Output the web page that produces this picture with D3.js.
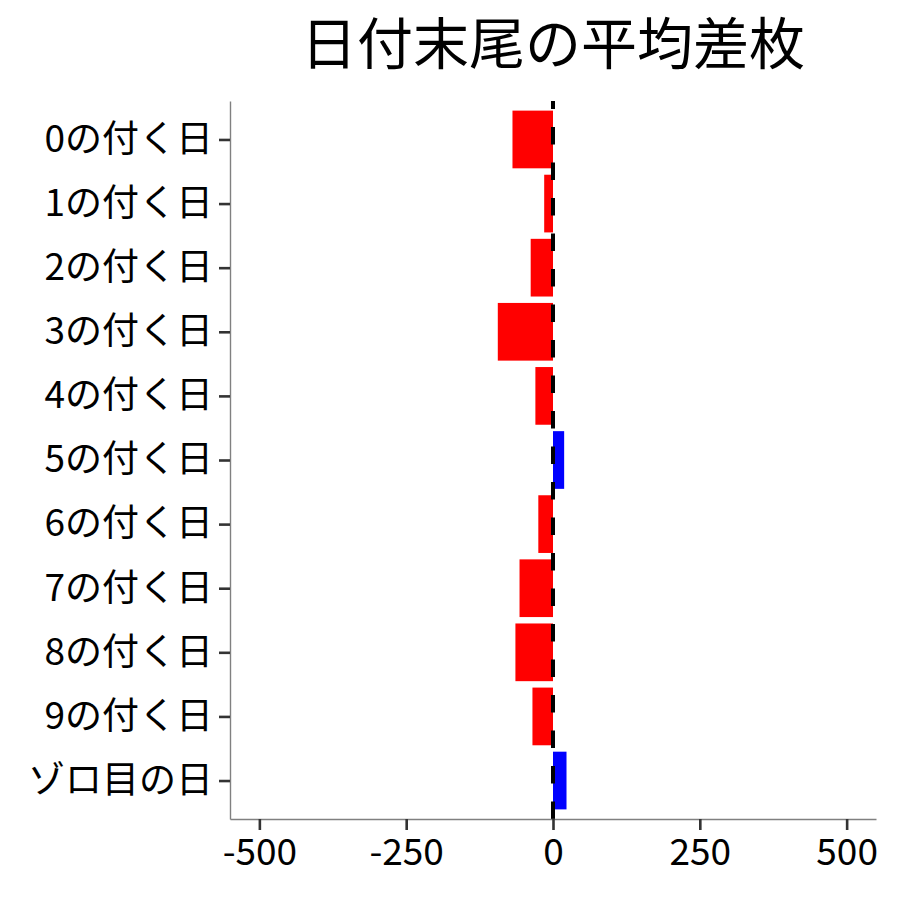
<!DOCTYPE html>
<html>
<head>
<meta charset="utf-8">
<script src="https://cdn.jsdelivr.net/npm/d3@7"></script>
<style>
  body { margin: 0; background: #fff; }
  text { font-family: "Noto Sans CJK JP", "Noto Sans", sans-serif; }
</style>
</head>
<body>
<div id="chart"></div>
<script>
const width = 900;
const height = 900;

// データ
const categories = ["0の付く日", "1の付く日", "2の付く日", "3の付く日", "4の付く日",
  "5の付く日", "6の付く日", "7の付く日", "8の付く日", "9の付く日", "ゾロ目の日"];
const values = [-69, -15, -38, -94, -30, 19, -25, -57, -64, -35, 23];
const xTicks = [-500, -250, 0, 250, 500];
const title = "日付末尾の平均差枚";

const margin = { top: 101, right: 24, bottom: 81, left: 230 };
const innerW = width - margin.left - margin.right;
const innerH = height - margin.top - margin.bottom;

const svg = d3.select("#chart")
  .append("svg")
  .attr("width", width)
  .attr("height", height);

const g = svg.append("g")
  .attr("transform", `translate(${margin.left},${margin.top})`);

// スケール
const x = d3.scaleLinear().domain([-550, 550]).range([0, innerW]);
const y = d3.scalePoint().domain(categories).range([0, innerH]).padding(0.6);
const barH = y.step() * 0.9;

// 棒
g.selectAll("rect.bar")
  .data(categories.map((c, i) => ({ c, v: values[i] })))
  .enter()
  .append("rect")
  .attr("class", "bar")
  .attr("x", d => x(Math.min(0, d.v)))
  .attr("width", d => Math.abs(x(d.v) - x(0)))
  .attr("y", d => y(d.c) - barH / 2)
  .attr("height", barH)
  .attr("fill", d => d.v < 0 ? "#FF0000" : "#0000FF");

// 0の破線
g.append("line")
  .attr("x1", x(0)).attr("x2", x(0))
  .attr("y1", innerH).attr("y2", 0)
  .attr("stroke", "#000")
  .attr("stroke-width", 4)
  .attr("stroke-dasharray", "17.5,18");

// 軸
const xAxis = g.append("g")
  .attr("transform", `translate(0,${innerH})`)
  .call(d3.axisBottom(x).tickValues(xTicks).tickSize(11).tickPadding(9).tickSizeOuter(0));
const yAxis = g.append("g")
  .call(d3.axisLeft(y).tickSize(11).tickPadding(6).tickSizeOuter(0));

[xAxis, yAxis].forEach(a => {
  a.select(".domain").attr("stroke", "#808080").attr("stroke-width", 1.4);
  a.selectAll(".tick line").attr("stroke", "#333").attr("stroke-width", 2.6);
  a.selectAll(".tick text")
    .attr("fill", "#000")
    .style("font-size", "37px")
    .style("font-family", "'Noto Sans CJK JP', sans-serif");
});
xAxis.selectAll(".tick text").text(d => d < 0 ? "-" + Math.abs(d) : d);

// タイトル
svg.append("text")
  .attr("x", margin.left + innerW / 2)
  .attr("y", 64)
  .attr("text-anchor", "middle")
  .style("font-size", "56px")
  .attr("fill", "#000")
  .text(title);
</script>
</body>
</html>
